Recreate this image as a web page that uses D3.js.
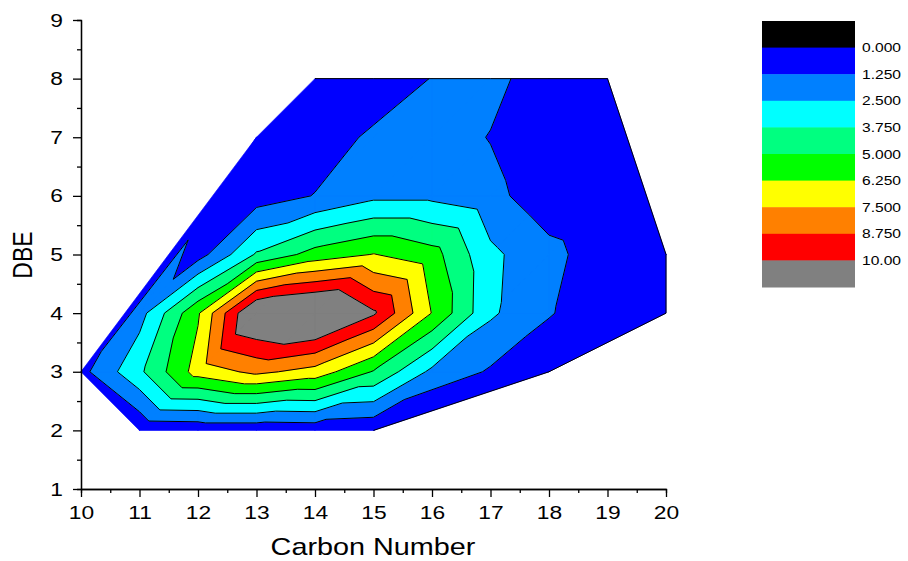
<!doctype html>
<html>
<head>
<meta charset="utf-8">
<title>DBE vs Carbon Number</title>
<style>
body { margin: 0; background: #fff; }
svg { display: block; font-family: "Liberation Sans", Arial, sans-serif; }
</style>
</head>
<body>
<svg></svg>
<script src="https://cdn.jsdelivr.net/npm/d3@7/dist/d3.min.js"></script>
<script>
var width = 908, height = 561;

// grid of the measured values, rows = DBE (top to bottom), columns = carbon number
var carbonNumbers = [10, 11, 12, 13, 14, 15, 16, 17, 18, 19, 20];
var dbeValues = [8, 7, 6, 5, 4, 3, 2];
var abundance = [
  [null, null, null, null, 0.3,  0.3,  1.3, 1.6,  0.6,  0.2,  null],
  [null, null, null, 0.2,  0.5,  1.5,  1.8, 1.2,  0.2,  0.3,  null],
  [null, null, null, 0.6,  1.3,  2.2,  2.2, 1.62, 0.5,  0.1,  null],
  [null, null, 0.7,  3.9,  5.5,  6.3,  5.5, 2.77, 1.62, 0.5,  0.3],
  [null, 2.0,  6.1,  11.8, 12.5, 10.2, 6.2, 2.7,  1.35, 0.35, 0.2],
  [0.85, 3.5,  6.8,  7.8,  7.0,  4.9,  2.2, 1.1,  0.2,  null, null],
  [null, 0.2,  0.3,  0.3,  0.4,  0.2,  null, null, null, null, null]
];

var levels = [0, 1.25, 2.5, 3.75, 5, 6.25, 7.5, 8.75, 10];
var bandColors = ['#000000', '#0000ff', '#0080ff', '#00ffff', '#00ff80',
                  '#00ff00', '#ffff00', '#ff8000', '#ff0000', '#808080'];
var legendLabels = ['0.000', '1.250', '2.500', '3.750', '5.000', '6.250', '7.500', '8.750', '10.00'];

var xMajor = [10, 11, 12, 13, 14, 15, 16, 17, 18, 19, 20];
var xMinor = [10.5, 11.5, 12.5, 13.5, 14.5, 15.5, 16.5, 17.5, 18.5, 19.5];
var yMajor = [1, 2, 3, 4, 5, 6, 7, 8, 9];
var yMinor = [1.5, 2.5, 3.5, 4.5, 5.5, 6.5, 7.5, 8.5];

var stretch = 1.2; // the original lettering is a bit wide

var svg = d3.select('svg').attr('width', width).attr('height', height);

var x = d3.scaleLinear().domain([10, 20]).range([81, 666]);
var y = d3.scaleLinear().domain([1, 9]).range([489, 20]);

// scattered points
var pts = [];
dbeValues.forEach(function (d, i) {
  carbonNumbers.forEach(function (c, j) {
    var z = abundance[i][j];
    if (z !== null) pts.push({c: c, d: d, z: z});
  });
});

// triangulation: slight shear picks one cell diagonal, slight bulge keeps
// straight rows on the rim from making flat triangles
function triU(p) {
  var u = p.c - 0.05 * p.d - 15, v = p.d - 5, k = 1 - 1e-4 * (u * u + v * v);
  return u * k;
}
function triV(p) {
  var u = p.c - 0.05 * p.d - 15, v = p.d - 5, k = 1 - 1e-4 * (u * u + v * v);
  return v * k;
}
var delaunay = d3.Delaunay.from(pts, triU, triV);
var tris = [];
for (var t = 0; t < delaunay.triangles.length; t += 3) {
  var a = pts[delaunay.triangles[t]], b = pts[delaunay.triangles[t + 1]], c = pts[delaunay.triangles[t + 2]];
  var area = (b.c - a.c) * (c.d - a.d) - (c.c - a.c) * (b.d - a.d);
  if (Math.abs(area) > 1e-6) tris.push([a, b, c]);
}

function clip(poly, L, above) {
  var out = [];
  for (var i = 0; i < poly.length; i++) {
    var p = poly[i], q = poly[(i + 1) % poly.length];
    var pin = above ? p.z >= L : p.z <= L;
    var qin = above ? q.z >= L : q.z <= L;
    if (pin) out.push(p);
    if (pin !== qin) {
      var s = (L - p.z) / (q.z - p.z);
      out.push({c: p.c + s * (q.c - p.c), d: p.d + s * (q.d - p.d), z: L});
    }
  }
  return out;
}

var line = d3.line().x(function (p) { return x(p.c); }).y(function (p) { return y(p.d); });

var plot = svg.append('g');

bandColors.forEach(function (col, k) {
  var lo = k === 0 ? -Infinity : levels[k - 1];
  var hi = k === bandColors.length - 1 ? Infinity : levels[k];
  var dstr = '';
  tris.forEach(function (tr) {
    var poly = tr.slice();
    if (lo > -Infinity) poly = clip(poly, lo, true);
    if (poly.length >= 3 && hi < Infinity) poly = clip(poly, hi, false);
    if (poly.length >= 3) dstr += line(poly) + 'Z';
  });
  if (dstr) {
    plot.append('path')
      .attr('d', dstr)
      .attr('fill', col)
      .attr('stroke', col)
      .attr('stroke-width', 0.7)
      .attr('stroke-linejoin', 'round');
  }
});

// contour lines
var segs = '';
levels.forEach(function (L) {
  tris.forEach(function (tr) {
    var cross = [];
    for (var i = 0; i < 3; i++) {
      var p = tr[i], q = tr[(i + 1) % 3];
      if ((p.z - L) * (q.z - L) < 0) {
        var s = (L - p.z) / (q.z - p.z);
        cross.push({c: p.c + s * (q.c - p.c), d: p.d + s * (q.d - p.d)});
      }
    }
    if (cross.length === 2) segs += line(cross);
  });
});
plot.append('path').attr('d', segs).attr('fill', 'none')
  .attr('stroke', '#000').attr('stroke-width', 1);

// boundary line on the right hand side of the data area
var hull = delaunay.hull;
var cx = d3.mean(pts, function (p) { return p.c; }), cy = d3.mean(pts, function (p) { return p.d; });
var edge = '';
for (var i = 0; i < hull.length; i++) {
  var p = pts[hull[i]], q = pts[hull[(i + 1) % hull.length]];
  var nx = q.d - p.d, ny = -(q.c - p.c);
  var mx = (p.c + q.c) / 2 - cx, my = (p.d + q.d) / 2 - cy;
  if (nx * mx + ny * my < 0) { nx = -nx; ny = -ny; }
  if (nx >= -1e-9 && !(ny < 0 && nx < 1e-9)) edge += line([p, q]);
}
plot.append('path').attr('d', edge).attr('fill', 'none')
  .attr('stroke', '#000').attr('stroke-width', 1);

// axes
function styleAxis(g) {
  g.selectAll('path, line').attr('stroke', '#000').attr('stroke-width', 1.3);
  g.selectAll('text').attr('fill', '#000').style('font-size', '19px')
    .style('font-family', '"Liberation Sans", Arial, sans-serif');
}

svg.append('g').attr('transform', 'translate(0,489)')
  .call(d3.axisBottom(x).tickValues(xMinor).tickSize(4).tickFormat(''))
  .call(styleAxis);
svg.append('g').attr('transform', 'translate(0,489)')
  .call(d3.axisBottom(x).tickValues(xMajor).tickSize(8).tickSizeOuter(0).tickPadding(9).tickFormat(d3.format('d')))
  .call(styleAxis)
  .selectAll('text').attr('transform', 'scale(' + stretch + ',1)');

svg.append('g').attr('transform', 'translate(81,0)')
  .call(d3.axisLeft(y).tickValues(yMinor).tickSize(4).tickFormat(''))
  .call(styleAxis);
svg.append('g').attr('transform', 'translate(81,0)')
  .call(d3.axisLeft(y).tickValues(yMajor).tickSize(8).tickSizeOuter(0).tickPadding(10).tickFormat(d3.format('d')))
  .call(styleAxis)
  .selectAll('text').attr('x', 0).attr('transform', 'translate(-18,0) scale(' + stretch + ',1)');

svg.append('text')
  .attr('transform', 'translate(373,555) scale(' + stretch + ',1)')
  .attr('text-anchor', 'middle')
  .style('font-size', '24px')
  .text('Carbon Number');

svg.append('text')
  .attr('transform', 'translate(32,255) scale(' + stretch + ',1) rotate(-90)')
  .attr('text-anchor', 'middle')
  .style('font-size', '23px')
  .text('DBE');

// legend
var lgY = d3.scaleLinear().domain([0, bandColors.length]).range([21, 287]);
var legend = svg.append('g');
legend.selectAll('rect').data(bandColors).enter().append('rect')
  .attr('x', 762).attr('width', 93)
  .attr('y', function (d, i) { return lgY(i); })
  .attr('height', function (d, i) { return lgY(i + 1) - lgY(i) + 0.5; })
  .attr('fill', function (d) { return d; });
legend.selectAll('text').data(legendLabels).enter().append('text')
  .attr('transform', function (d, i) { return 'translate(862,' + lgY(i + 1) + ') scale(' + stretch + ',1)'; })
  .attr('dy', '0.35em')
  .style('font-size', '13px')
  .text(function (d) { return d; });
</script>
</body>
</html>
